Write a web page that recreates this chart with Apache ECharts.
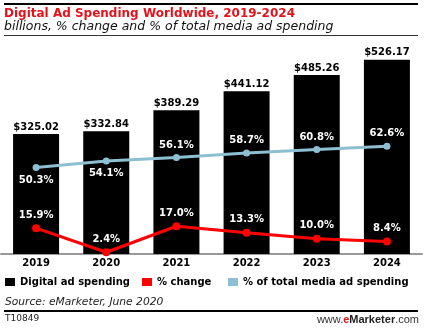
<!DOCTYPE html>
<html>
<head>
<meta charset="utf-8">
<script src="https://cdn.jsdelivr.net/npm/echarts@6/dist/echarts.min.js"></script>
<style>
html,body{margin:0;padding:0;background:#fff;}
#c{width:444px;height:331px;}
</style>
</head>
<body>
<div id="c"></div>
<script>
var years = ['2019', '2020', '2021', '2022', '2023', '2024'];
var spending = [325.02, 332.84, 389.29, 441.12, 485.26, 526.17];
var pctChange = [15.9, 2.4, 17.0, 13.3, 10.0, 8.4];
var pctTotal = [50.3, 54.1, 56.1, 58.7, 60.8, 62.6];
var totalLabelPos = ['bottom', 'bottom', 'top', 'top', 'top', 'top'];

var F = 'DejaVu Sans';
var chart = echarts.init(document.getElementById('c'));

var lineLabel = {
  show: true, color: '#fff', fontFamily: F, fontWeight: 'bold', fontSize: 10, distance: 4
};
var legendText = { color: '#000', fontFamily: F, fontWeight: 'bold', fontSize: 10 };

chart.setOption({
  animation: false,
  backgroundColor: '#fff',
  grid: { left: 1, right: 22, top: 40, bottom: 77 },
  xAxis: {
    type: 'category',
    data: years,
    axisLine: { lineStyle: { color: '#9a9a9a', width: 2 } },
    axisTick: { show: false },
    axisLabel: { color: '#000', fontFamily: F, fontWeight: 'bold', fontSize: 10, margin: 4 }
  },
  yAxis: [
    { type: 'value', min: 0, max: 580, show: false, splitLine: { show: false } },
    { type: 'value', min: 0, max: 124.4, show: false, splitLine: { show: false } },
    { type: 'value', min: 1.4, max: 121.6, show: false, splitLine: { show: false } }
  ],
  legend: [
    { data: ['Digital ad spending'], left: 5, top: 277, padding: 0, icon: 'rect', itemWidth: 10, itemHeight: 8, itemGap: 0, textStyle: legendText },
    { data: ['% change'], left: 142, top: 277, padding: 0, icon: 'rect', itemWidth: 10, itemHeight: 8, itemGap: 0, textStyle: legendText },
    { data: ['% of total media ad spending'], left: 228, top: 277, padding: 0, icon: 'rect', itemWidth: 10, itemHeight: 8, itemGap: 0, textStyle: legendText }
  ],
  series: [
    {
      name: 'Digital ad spending', type: 'bar', data: spending, barWidth: 46,
      itemStyle: { color: '#000' },
      label: { show: true, position: 'top', distance: 2, color: '#000', fontFamily: F, fontWeight: 'bold', fontSize: 10,
        formatter: function (p) { return '$' + p.value.toFixed(2); } },
      z: 1
    },
    {
      name: '% of total media ad spending', type: 'line', yAxisIndex: 1,
      data: pctTotal.map(function (v, i) { return { value: v, label: { position: totalLabelPos[i] } }; }),
      symbol: 'circle', symbolSize: 7,
      lineStyle: { color: '#8dbfd2', width: 3 },
      itemStyle: { color: '#8dbfd2' },
      label: Object.assign({}, lineLabel, { formatter: function (p) { return p.value.toFixed(1) + '%'; } }),
      z: 3
    },
    {
      name: '% change', type: 'line', yAxisIndex: 2, data: pctChange,
      symbol: 'circle', symbolSize: 8,
      lineStyle: { color: '#ff0000', width: 3 },
      itemStyle: { color: '#ff0000' },
      label: Object.assign({}, lineLabel, { position: 'top', formatter: function (p) { return p.value.toFixed(1) + '%'; } }),
      z: 4
    }
  ],
  graphic: [
    { type: 'rect', shape: { x: 4, y: 3, width: 414, height: 2 }, style: { fill: '#000' } },
    { type: 'text', x: 4, y: 13.5, style: { text: 'Digital Ad Spending Worldwide, 2019-2024', fill: '#e3121b',
      font: 'bold 12px "DejaVu Sans"', textVerticalAlign: 'middle' } },
    { type: 'text', x: 4, y: 27, style: { text: 'billions, % change and % of total media ad spending', fill: '#111',
      font: 'italic 12.5px "DejaVu Sans"', textVerticalAlign: 'middle' } },
    { type: 'rect', shape: { x: 4, y: 35, width: 414, height: 1 }, style: { fill: '#333' } },
    { type: 'text', x: 5, y: 302.5, style: { text: 'Source: eMarketer, June 2020', fill: '#222',
      font: 'italic 10.7px "DejaVu Sans"', textVerticalAlign: 'middle' } },
    { type: 'rect', shape: { x: 4, y: 310, width: 414, height: 2 }, style: { fill: '#000' } },
    { type: 'text', x: 5, y: 319, style: { text: 'T10849', fill: '#222',
      font: '9px "DejaVu Sans"', textVerticalAlign: 'middle' } },
    { type: 'text', x: 419, y: 320, style: {
      text: '{a|www.}{b|e}{c|Marketer}{a|.com}',
      textAlign: 'right', textVerticalAlign: 'middle',
      rich: {
        a: { fontFamily: 'Liberation Sans', fontSize: 11, fill: '#333' },
        b: { fontFamily: 'Liberation Sans', fontSize: 11, fontWeight: 'bold', fill: '#e3121b' },
        c: { fontFamily: 'Liberation Sans', fontSize: 11, fontWeight: 'bold', fill: '#222' }
      } } }
  ]
});
</script>
</body>
</html>
